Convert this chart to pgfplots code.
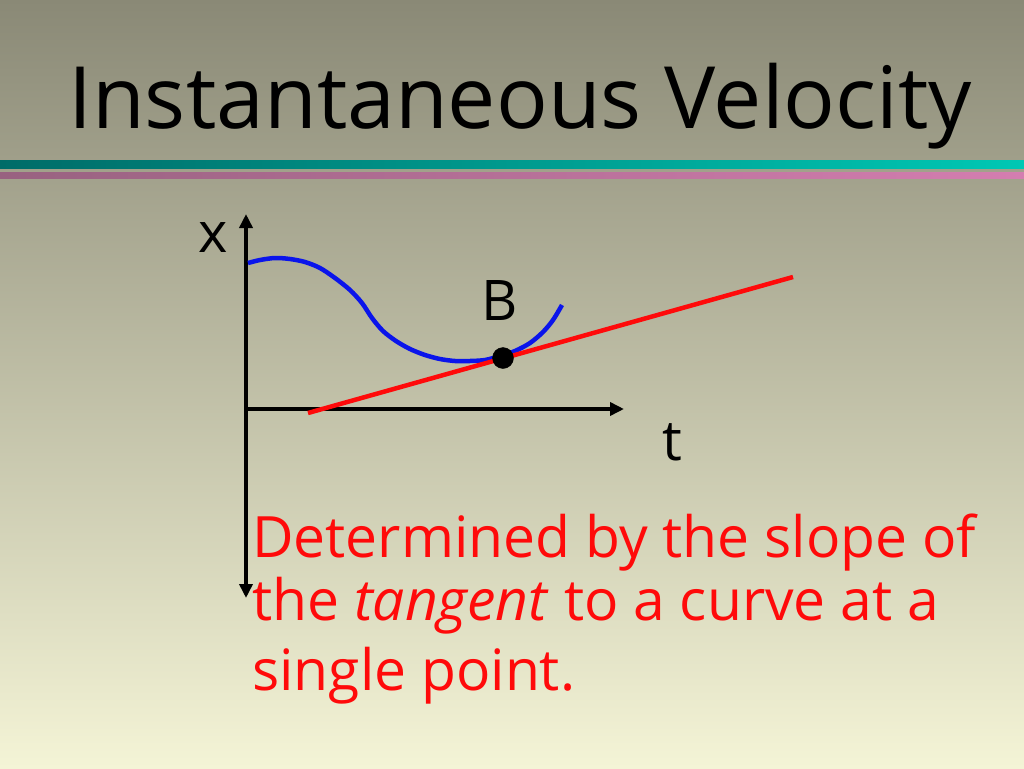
\documentclass[border=0pt]{standalone}
\usepackage{pgfplots}
\pgfplotsset{compat=1.18}
\usepackage{fontspec}
\setmainfont{Open Sans}
\usetikzlibrary{arrows.meta}
\definecolor{bgtop}{RGB}{138,137,118}
\definecolor{bgmid}{RGB}{205,205,176}
\definecolor{bgbot}{RGB}{244,244,214}
\definecolor{tealL}{RGB}{0,108,104}
\definecolor{tealR}{RGB}{0,200,180}
\definecolor{pinkL}{RGB}{152,98,128}
\definecolor{pinkR}{RGB}{212,126,176}
\definecolor{curveblue}{RGB}{10,20,235}
\definecolor{tanred}{RGB}{255,10,10}
\begin{document}
\begin{tikzpicture}
\begin{axis}[width=1024pt,height=768pt,scale only axis,
  xmin=0,xmax=1024,ymin=0,ymax=768,y dir=reverse,
  axis lines=none,clip=false]
% background
\fill[top color=bgtop,middle color=bgmid,bottom color=bgbot] (axis cs:0,0) rectangle (axis cs:1024,768);
% separator bands
\fill[left color=tealL,right color=tealR] (axis cs:0,160) rectangle (axis cs:1024,168);
\fill[left color=pinkL,right color=pinkR] (axis cs:0,172) rectangle (axis cs:1024,178);
% title
\node[anchor=base west,inner sep=0pt,font=\fontsize{86}{96}\selectfont] at (axis cs:68,128) {Instantaneous Velocity};
% axes of the sketch
\addplot[black,line width=4.5pt,-{Triangle[length=14pt,width=13pt]}] coordinates {(246,420) (246,214)};
\addplot[black,line width=4.5pt,-{Triangle[length=14pt,width=13pt]}] coordinates {(246,400) (246,598)};
\addplot[black,line width=4.5pt,-{Triangle[length=14pt,width=13pt]}] coordinates {(244,409) (624,409)};
\node[anchor=base,inner sep=0pt,font=\fontsize{56}{60}\selectfont] at (axis cs:213,252) {x};
\node[anchor=base,inner sep=0pt,font=\fontsize{56}{60}\selectfont] at (axis cs:672,460) {t};
\node[anchor=base,inner sep=0pt,font=\fontsize{56}{60}\selectfont] at (axis cs:500,320) {B};
% curve
\addplot[curveblue,line width=4.5pt,smooth] coordinates {
(248,263) (260,260) (275,258) (290,259) (305,262) (320,268) (335,278) (350,290)
(362,303) (372,318) (383,331) (396,341) (410,349) (425,355) (440,359) (455,361)
(470,361) (485,360) (500,356) (515,351) (530,343) (543,332) (553,320) (562,305)};
% tangent
\addplot[tanred,line width=4.5pt] coordinates {(308,413) (793,277)};
\addplot[only marks,mark=*,mark size=10.5pt,black] coordinates {(503,358)};
% text
\node[anchor=base west,inner sep=0pt,text=tanred,font=\fontsize{57}{60}\selectfont] at (axis cs:252,557) {Determined by the slope of};
\node[anchor=base west,inner sep=0pt,text=tanred,font=\fontsize{57}{60}\selectfont] at (axis cs:252,620) {the \textit{tangent} to a curve at a};
\node[anchor=base west,inner sep=0pt,text=tanred,font=\fontsize{57}{60}\selectfont] at (axis cs:252,690) {single point.};
\end{axis}
\end{tikzpicture}
\end{document}
